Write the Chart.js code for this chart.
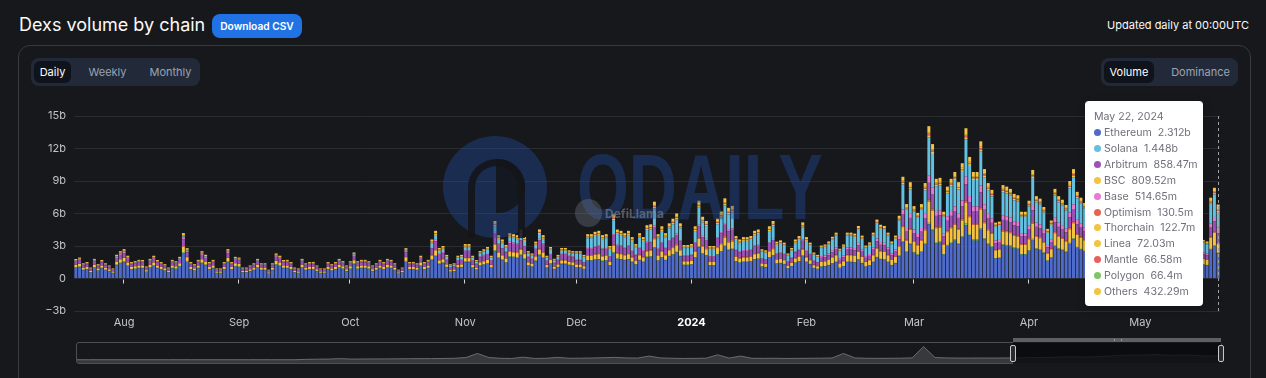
<!DOCTYPE html>
<html>
<head>
<meta charset="utf-8">
<title>Dexs volume by chain</title>
<script src="https://cdn.jsdelivr.net/npm/chart.js@4.4.1/dist/chart.umd.min.js"></script>
<style>
  html, body { margin: 0; padding: 0; }
  body { width: 1266px; height: 378px; overflow: hidden; position: relative; background: #17181c; color: #fafafa; font-family: Inter, "Noto Sans", sans-serif; }
  .abs { position: absolute; }
  #title { left: 19px; top: 10px; font-size: 18px; font-weight: 400; line-height: 30px; white-space: nowrap; }
  #csv { left: 212px; top: 14px; width: 90px; height: 24px; border-radius: 8px; background: #2172e5; color: #fff; font-size: 10.2px; font-weight: 600; line-height: 24px; text-align: center; }
  #updated { right: 17px; top: 15px; font-size: 11px; line-height: 20px; white-space: nowrap; }
  #card { left: 18px; top: 45px; width: 1233px; height: 400px; border: 1px solid #393a3f; border-radius: 12px; box-sizing: border-box; }
  .group { top: 58px; height: 28px; background: #222a39; border-radius: 8px; }
  .tab { top: 61px; height: 22px; line-height: 22px; font-size: 11px; text-align: center; color: #9aa3b3; border-radius: 6px; white-space: nowrap; }
  .tab.on { background: #0f131b; color: #fff; }
  #chartBox { left: 0; top: 95px; width: 1266px; height: 240px; }
  .wm { pointer-events: none; }
  #logo { left: 443px; top: 136px; width: 104px; height: 102px; border-radius: 50%; background: rgba(31, 74, 150, 0.42); }
  #arch { left: 468px; top: 159px; width: 57px; height: 79px; border: 7px solid rgba(20, 21, 25, 0.85); border-bottom: 0; border-radius: 29px 29px 0 0; box-sizing: border-box; }
  #bowl { left: 496px; top: 159px; width: 29px; height: 54px; border-radius: 0 27px 27px 0; background: rgba(20, 21, 25, 0.85); }
  #odaily { left: 577px; top: 141px; font-family: "Liberation Sans Narrow", "Liberation Sans", sans-serif; font-weight: 700; font-size: 93px; line-height: 93px; color: rgba(31, 74, 150, 0.42); transform-origin: 0 0; white-space: nowrap; }
  #llamaIcon { left: 575px; top: 199px; width: 27px; height: 28px; border-radius: 50%; background: rgba(130, 134, 146, 0.32); }
  #llamaText { left: 605px; top: 206px; font-size: 12px; font-weight: 700; line-height: 16px; color: rgba(150, 154, 166, 0.5); }
  #tip { left: 1085px; top: 101px; width: 118px; height: 205px; background: #fff; border-radius: 4px; box-shadow: 1px 2px 10px rgba(0, 0, 0, 0.2); box-sizing: border-box; padding: 8px 0 0 9px; font-size: 10.6px; color: #6e7079; }
  #tip .head { line-height: 16px; height: 16px; }
  #tip .row { height: 15.85px; display: flex; align-items: center; white-space: nowrap; }
  #tip .dot { width: 7px; height: 7px; border-radius: 50%; margin-right: 3px; flex: none; }
  #tip .val { margin-left: 6px; }
  #nav { left: 76px; top: 342px; width: 1146px; height: 22px; border: 1px solid #4e4f54; border-radius: 3px; box-sizing: border-box; overflow: hidden; }
  #navSel { left: 1013px; top: 342px; width: 208px; height: 22px; background: rgba(8, 9, 11, 0.78); }
  #navBar { left: 1013px; top: 338px; width: 208px; height: 4px; background: #5f6064; }
  #grip { left: 1114px; top: 339px; width: 6px; height: 2px; border-left: 1px solid #999; border-right: 1px solid #999; }
  .handle { top: 345px; width: 6px; height: 17px; border: 1px solid #c8c8c8; border-radius: 2px; background: #2a2b2f; box-sizing: border-box; }
</style>
</head>
<body>
<div id="title" class="abs">Dexs volume by chain</div>
<div id="csv" class="abs">Download CSV</div>
<div id="updated" class="abs">Updated daily at 00:00UTC</div>
<div id="card" class="abs"></div>

<div class="abs group" style="left:31px;width:169px"></div>
<div class="abs tab on" style="left:34px;width:37px">Daily</div>
<div class="abs tab" style="left:77px;width:61px">Weekly</div>
<div class="abs tab" style="left:143px;width:55px">Monthly</div>

<div class="abs group" style="left:1101px;width:137px"></div>
<div class="abs tab on" style="left:1104px;width:50px">Volume</div>
<div class="abs tab" style="left:1160px;width:81px">Dominance</div>

<div id="chartBox" class="abs"><canvas id="volChart"></canvas></div>

<div id="logo" class="abs wm"></div>
<div id="arch" class="abs wm"></div>
<div id="bowl" class="abs wm"></div>
<div id="odaily" class="abs wm">ODAILY</div>
<div id="llamaIcon" class="abs wm"></div>
<div id="llamaText" class="abs wm">DefiLlama</div>

<div id="tip" class="abs"></div>

<div id="nav" class="abs"><canvas id="navChart"></canvas></div>
<div id="navSel" class="abs"></div>
<div id="navBar" class="abs"></div>
<div id="grip" class="abs"></div>
<div class="abs handle" style="left:1010px"></div>
<div class="abs handle" style="left:1218px"></div>

<script>
// daily dex volume in billions USD, 2023-07-19 .. 2024-05-22
const firstDay = '2023-07-19';
const monthTicks = ['Aug', 'Sep', 'Oct', 'Nov', 'Dec', '2024', 'Feb', 'Mar', 'Apr', 'May'];

const ethereum = [
  .99,1.05,.77,.83,.55,.99,.72,.94,.77,.66, .50,1.21,1.38,1.49,1.16,.83,.88,.94,.94,.61,
  .99,1.16,.94,.83,.72,.55,.94,.88,1.10,2.31, 1.54,.83,.72,.94,1.38,1.21,.83,.94,.50,.50,
  .83,1.49,.83,1.10,1.05,.55,.55,.66,.77,.99, .77,.77,.44,.77,1.27,1.16,.94,.94,.83,.55,
  .50,.99,.77,.83,.83,.66,.50,.50,.83,.72, .83,.99,.88,.66,.88,1.32,.88,.94,.94,.88,
  .66,.77,.94,.83,.99,.94,.77,.44,.55,1.54, .83,.83,.77,1.16,.83,.94,
  1.69,2.07,1.32,1.41,1.03,.61,.66,.99,1.03,1.50, 1.50,.99,.80,1.18,1.27,1.36,.99,2.49,1.88,1.69,
  1.46,1.97,1.93,1.88,2.12,1.79,1.18,1.08,1.60,2.12, 1.88,.99,1.36,.85,1.03,1.32,1.32,1.22,1.18,
  1.00,1.00,.88,1.64,1.64,1.72,1.76,1.60,1.64,1.20, 2.36,1.80,1.76,1.68,1.76,1.52,1.28,1.68,1.52,1.96,
  2.00,2.84,1.64,1.92,1.68,2.04,2.20,2.40,2.04,1.24, 1.24,1.28,1.92,2.88,2.28,2.12,1.20,1.20,2.20,2.48,
  2.96,2.60,2.68,1.56,1.44,1.52,1.52,1.56,1.76,1.80, 1.08,1.04,1.92,2.12,1.36,1.40,1.32,.92,1.12,1.44,
  1.56,2.08,1.52,1.32,.96,.88,
  1.08,1.12,1.22,1.37,1.51,.97,1.12, 1.51,1.51,1.48,1.73,1.40,1.08,1.19,1.51,1.94,1.76,
  1.73,1.51,1.22,1.40,2.05,3.35,2.45,3.17,2.38,2.16, 2.45,3.13,5.00,4.43,3.28,3.31,2.20,3.02,3.28,3.49,
  3.17,3.78,4.93,4.00,3.49,3.49,4.50,3.60,3.13,2.92, 1.84,1.87,3.06,3.02,2.95,2.77,2.74,2.20,2.20,2.56,
  3.56,2.70,2.63,2.34,1.62,1.91,2.95,2.70,2.59,2.41, 3.20,3.60,2.84,2.66,2.48,
  2.34,2.09,1.76,2.02,2.23,2.45,2.12,1.87,1.73,1.98, 2.27,2.05,2.48,2.66,1.84,1.66,1.91,2.09,2.20,1.80,
  1.58,1.76,2.02,2.12,1.87,1.69,1.98,2.16,1.94,1.76,1.66, 1.26,1.22,2.66,2.99, 2.312
];

const solana = [
  .04,.04,.03,.03,.02,.04,.03,.03,.03,.02, .02,.04,.05,.05,.04,.03,.03,.03,.03,.02,
  .04,.04,.03,.03,.03,.02,.03,.03,.04,.08, .06,.03,.03,.03,.05,.04,.03,.03,.02,.02,
  .03,.05,.03,.04,.04,.02,.02,.02,.03,.04, .03,.03,.02,.03,.05,.04,.03,.03,.03,.02,
  .02,.04,.03,.03,.03,.02,.02,.02,.03,.03, .03,.04,.03,.02,.03,.05,.03,.03,.03,.03,
  .02,.03,.03,.03,.04,.03,.03,.02,.02,.06, .03,.03,.03,.04,.03,.03,
  .36,.44,.28,.30,.22,.13,.14,.21,.22,.32, .32,.21,.17,.25,.27,.29,.21,.53,.40,.36,
  .31,.42,.41,.40,.45,.38,.25,.23,.34,.45, .40,.21,.29,.18,.22,.28,.28,.26,.25,
  .55,.55,.48,.90,.90,.95,.97,.88,.90,.66, 1.30,.99,.97,.92,.97,.84,.70,.92,.84,1.08,
  1.10,1.56,.90,1.06,.92,1.12,1.21,1.32,1.12,.68, .68,.70,1.06,1.58,1.25,1.17,.66,.66,1.21,1.36,
  1.63,1.43,1.47,.86,.79,.84,.84,.86,.97,.99, .59,.57,1.06,1.17,.75,.77,.73,.51,.62,.79,
  .86,1.14,.84,.73,.53,.48,
  .75,.78,.85,.95,1.05,.68,.78, 1.05,1.05,1.03,1.20,.98,.75,.83,1.05,1.35,1.23,
  1.20,1.05,.85,.98,1.43,2.33,1.70,2.20,1.65,1.50, 1.70,2.18,3.48,3.08,2.28,2.30,1.53,2.10,2.28,2.43,
  2.20,2.63,3.43,2.78,2.43,2.43,3.13,2.50,2.18,2.03, 1.28,1.30,2.13,2.10,2.05,1.93,1.90,1.53,1.53,1.78,
  2.48,1.88,1.83,1.63,1.13,1.33,2.05,1.88,1.80,1.68, 2.23,2.50,1.98,1.85,1.73,
  1.63,1.45,1.23,1.40,1.55,1.70,1.48,1.30,1.20,1.38, 1.58,1.43,1.73,1.85,1.28,1.15,1.33,1.45,1.53,1.25,
  1.10,1.23,1.40,1.48,1.30,1.18,1.38,1.50,1.35,1.23,1.15, .88,.85,1.85,2.08, 1.448
];

const arbitrum = [
  .27,.29,.21,.23,.15,.27,.20,.26,.21,.18, .14,.33,.38,.41,.32,.23,.24,.26,.26,.17,
  .27,.32,.26,.23,.20,.15,.26,.24,.30,.63, .42,.23,.20,.26,.38,.33,.23,.26,.14,.14,
  .23,.41,.23,.30,.29,.15,.15,.18,.21,.27, .21,.21,.12,.21,.35,.32,.26,.26,.23,.15,
  .14,.27,.21,.23,.23,.18,.14,.14,.23,.20, .23,.27,.24,.18,.24,.36,.24,.26,.26,.24,
  .18,.21,.26,.23,.27,.26,.21,.12,.15,.42, .23,.23,.21,.32,.23,.26,
  .61,.75,.48,.51,.37,.22,.24,.36,.37,.54, .54,.36,.29,.43,.46,.49,.36,.90,.68,.61,
  .53,.71,.70,.68,.77,.65,.43,.39,.58,.77, .68,.36,.49,.31,.37,.48,.48,.44,.43,
  .35,.35,.31,.57,.57,.60,.62,.56,.57,.42, .83,.63,.62,.59,.62,.53,.45,.59,.53,.69,
  .70,.99,.57,.67,.59,.71,.77,.84,.71,.43, .43,.45,.67,1.01,.80,.74,.42,.42,.77,.87,
  1.04,.91,.94,.55,.50,.53,.53,.55,.62,.63, .38,.36,.67,.74,.48,.49,.46,.32,.39,.50,
  .55,.73,.53,.46,.34,.31,
  .33,.34,.37,.42,.46,.30,.34, .46,.46,.45,.53,.43,.33,.36,.46,.59,.54,
  .53,.46,.37,.43,.63,1.02,.75,.97,.73,.66, .75,.96,1.53,1.35,1.00,1.01,.67,.92,1.00,1.07,
  .97,1.16,1.51,1.22,1.07,1.07,1.38,1.10,.96,.89, .56,.57,.94,.92,.90,.85,.84,.67,.67,.78,
  1.09,.83,.80,.72,.50,.58,.90,.83,.79,.74, .98,1.10,.87,.81,.76,
  .72,.64,.54,.62,.68,.75,.65,.57,.53,.61, .69,.63,.76,.81,.56,.51,.58,.64,.67,.55,
  .48,.54,.62,.65,.57,.52,.61,.66,.59,.54,.51, .39,.37,.81,.91, .85847
];

const bsc = [
  .22,.23,.17,.18,.12,.22,.16,.20,.17,.14, .11,.26,.30,.32,.25,.18,.19,.20,.20,.13,
  .22,.25,.20,.18,.16,.12,.20,.19,.24,.50, .34,.18,.16,.20,.30,.26,.18,.20,.11,.11,
  .18,.32,.18,.24,.23,.12,.12,.14,.17,.22, .17,.17,.10,.17,.28,.25,.20,.20,.18,.12,
  .11,.22,.17,.18,.18,.14,.11,.11,.18,.16, .18,.22,.19,.14,.19,.29,.19,.20,.20,.19,
  .14,.17,.20,.18,.22,.20,.17,.10,.12,.34, .18,.18,.17,.25,.18,.20,
  .36,.44,.28,.30,.22,.13,.14,.21,.22,.32, .32,.21,.17,.25,.27,.29,.21,.53,.40,.36,
  .31,.42,.41,.40,.45,.38,.25,.23,.34,.45, .40,.21,.29,.18,.22,.28,.28,.26,.25,
  .25,.25,.22,.41,.41,.43,.44,.40,.41,.30, .59,.45,.44,.42,.44,.38,.32,.42,.38,.49,
  .50,.71,.41,.48,.42,.51,.55,.60,.51,.31, .31,.32,.48,.72,.57,.53,.30,.30,.55,.62,
  .74,.65,.67,.39,.36,.38,.38,.39,.44,.45, .27,.26,.48,.53,.34,.35,.33,.23,.28,.36,
  .39,.52,.38,.33,.24,.22,
  .42,.43,.48,.53,.59,.38,.43, .59,.59,.57,.67,.55,.42,.46,.59,.76,.69,
  .67,.59,.48,.55,.80,1.30,.95,1.23,.92,.84, .95,1.22,1.95,1.72,1.27,1.29,.85,1.18,1.27,1.36,
  1.23,1.47,1.92,1.55,1.36,1.36,1.75,1.40,1.22,1.13, .71,.73,1.19,1.18,1.15,1.08,1.06,.85,.85,.99,
  1.39,1.05,1.02,.91,.63,.74,1.15,1.05,1.01,.94, 1.25,1.40,1.11,1.04,.97,
  .91,.81,.69,.78,.87,.95,.83,.73,.67,.77, .88,.80,.97,1.04,.71,.64,.74,.81,.85,.70,
  .62,.69,.78,.83,.73,.66,.77,.84,.76,.69,.64, .49,.48,1.04,1.16, .80952
];

const base = [
  .07,.08,.06,.06,.04,.07,.05,.07,.06,.05, .04,.09,.10,.11,.08,.06,.06,.07,.07,.04,
  .07,.08,.07,.06,.05,.04,.07,.06,.08,.17, .11,.06,.05,.07,.10,.09,.06,.07,.04,.04,
  .06,.11,.06,.08,.08,.04,.04,.05,.06,.07, .06,.06,.03,.06,.09,.08,.07,.07,.06,.04,
  .04,.07,.06,.06,.06,.05,.04,.04,.06,.05, .06,.07,.06,.05,.06,.10,.06,.07,.07,.06,
  .05,.06,.07,.06,.07,.07,.06,.03,.04,.11, .06,.06,.06,.08,.06,.07,
  .11,.13,.08,.09,.07,.04,.04,.06,.07,.10, .10,.06,.05,.08,.08,.09,.06,.16,.12,.11,
  .09,.13,.12,.12,.14,.11,.08,.07,.10,.14, .12,.06,.09,.05,.07,.08,.08,.08,.08,
  .05,.05,.04,.08,.08,.09,.09,.08,.08,.06, .12,.09,.09,.08,.09,.08,.06,.08,.08,.10,
  .10,.14,.08,.10,.08,.10,.11,.12,.10,.06, .06,.06,.10,.14,.11,.11,.06,.06,.11,.12,
  .15,.13,.13,.08,.07,.08,.08,.08,.09,.09, .05,.05,.10,.11,.07,.07,.07,.05,.06,.07,
  .08,.10,.08,.07,.05,.04,
  .15,.16,.17,.19,.21,.14,.16, .21,.21,.21,.24,.20,.15,.17,.21,.27,.25,
  .24,.21,.17,.20,.29,.47,.34,.44,.33,.30, .34,.44,.70,.62,.46,.46,.31,.42,.46,.49,
  .44,.53,.69,.56,.49,.49,.63,.50,.44,.41, .26,.26,.43,.42,.41,.39,.38,.31,.31,.36,
  .50,.38,.37,.33,.23,.27,.41,.38,.36,.34, .45,.50,.40,.37,.35,
  .33,.29,.25,.28,.31,.34,.30,.26,.24,.28, .32,.29,.35,.37,.26,.23,.27,.29,.31,.25,
  .22,.25,.28,.30,.26,.24,.28,.30,.27,.25,.23, .18,.17,.37,.42, .51465
];

const optimism = [
  .03,.03,.02,.02,.02,.03,.02,.03,.02,.02, .01,.03,.04,.04,.03,.02,.02,.03,.03,.02,
  .03,.03,.03,.02,.02,.02,.03,.02,.03,.06, .04,.02,.02,.03,.04,.03,.02,.03,.01,.01,
  .02,.04,.02,.03,.03,.02,.02,.02,.02,.03, .02,.02,.01,.02,.03,.03,.03,.03,.02,.02,
  .01,.03,.02,.02,.02,.02,.01,.01,.02,.02, .02,.03,.02,.02,.02,.04,.02,.03,.03,.02,
  .02,.02,.03,.02,.03,.03,.02,.01,.02,.04, .02,.02,.02,.03,.02,.03,
  .07,.09,.06,.06,.04,.03,.03,.04,.04,.06, .06,.04,.03,.05,.05,.06,.04,.11,.08,.07,
  .06,.08,.08,.08,.09,.08,.05,.05,.07,.09, .08,.04,.06,.04,.04,.06,.06,.05,.05,
  .05,.05,.04,.08,.08,.09,.09,.08,.08,.06, .12,.09,.09,.08,.09,.08,.06,.08,.08,.10,
  .10,.14,.08,.10,.08,.10,.11,.12,.10,.06, .06,.06,.10,.14,.11,.11,.06,.06,.11,.12,
  .15,.13,.13,.08,.07,.08,.08,.08,.09,.09, .05,.05,.10,.11,.07,.07,.07,.05,.06,.07,
  .08,.10,.08,.07,.05,.04,
  .05,.05,.05,.06,.06,.04,.05, .06,.06,.06,.07,.06,.05,.05,.06,.08,.07,
  .07,.06,.05,.06,.09,.14,.10,.13,.10,.09, .10,.13,.21,.18,.14,.14,.09,.13,.14,.15,
  .13,.16,.21,.17,.15,.15,.19,.15,.13,.12, .08,.08,.13,.13,.12,.12,.11,.09,.09,.11,
  .15,.11,.11,.10,.07,.08,.12,.11,.11,.10, .13,.15,.12,.11,.10,
  .10,.09,.07,.08,.09,.10,.09,.08,.07,.08, .09,.09,.10,.11,.08,.07,.08,.09,.09,.08,
  .07,.07,.08,.09,.08,.07,.08,.09,.08,.07,.07, .05,.05,.11,.12, .1305
];

const thorchain = [
  .02,.02,.01,.02,.01,.02,.01,.02,.01,.01, .01,.02,.03,.03,.02,.02,.02,.02,.02,.01,
  .02,.02,.02,.02,.01,.01,.02,.02,.02,.04, .03,.02,.01,.02,.03,.02,.02,.02,.01,.01,
  .02,.03,.02,.02,.02,.01,.01,.01,.01,.02, .01,.01,.01,.01,.02,.02,.02,.02,.02,.01,
  .01,.02,.01,.02,.02,.01,.01,.01,.02,.01, .02,.02,.02,.01,.02,.02,.02,.02,.02,.02,
  .01,.01,.02,.02,.02,.02,.01,.01,.01,.03, .02,.02,.01,.02,.02,.02,
  .07,.09,.06,.06,.04,.03,.03,.04,.04,.06, .06,.04,.03,.05,.05,.06,.04,.11,.08,.07,
  .06,.08,.08,.08,.09,.08,.05,.05,.07,.09, .08,.04,.06,.04,.04,.06,.06,.05,.05,
  .05,.05,.04,.08,.08,.09,.09,.08,.08,.06, .12,.09,.09,.08,.09,.08,.06,.08,.08,.10,
  .10,.14,.08,.10,.08,.10,.11,.12,.10,.06, .06,.06,.10,.14,.11,.11,.06,.06,.11,.12,
  .15,.13,.13,.08,.07,.08,.08,.08,.09,.09, .05,.05,.10,.11,.07,.07,.07,.05,.06,.07,
  .08,.10,.08,.07,.05,.04,
  .05,.05,.05,.06,.06,.04,.05, .06,.06,.06,.07,.06,.05,.05,.06,.08,.07,
  .07,.06,.05,.06,.09,.14,.10,.13,.10,.09, .10,.13,.21,.18,.14,.14,.09,.13,.14,.15,
  .13,.16,.21,.17,.15,.15,.19,.15,.13,.12, .08,.08,.13,.13,.12,.12,.11,.09,.09,.11,
  .15,.11,.11,.10,.07,.08,.12,.11,.11,.10, .13,.15,.12,.11,.10,
  .10,.09,.07,.08,.09,.10,.09,.08,.07,.08, .09,.09,.10,.11,.08,.07,.08,.09,.09,.08,
  .07,.07,.08,.09,.08,.07,.08,.09,.08,.07,.07, .05,.05,.11,.12, .1227
];

const linea = [
  .01,.02,.01,.01,.01,.02,.01,.01,.01,.01, .01,.02,.02,.03,.02,.01,.02,.02,.01,.01,
  .02,.02,.01,.01,.01,.01,.02,.01,.02,.04, .03,.01,.01,.02,.02,.02,.01,.02,.01,.01,
  .01,.03,.01,.02,.02,.01,.01,.01,.01,.02, .01,.01,.01,.01,.02,.02,.01,.02,.01,.01,
  .01,.02,.01,.01,.02,.01,.01,.01,.01,.01, .01,.02,.02,.01,.01,.02,.01,.02,.02,.01,
  .01,.01,.02,.01,.02,.02,.01,.01,.01,.03, .01,.02,.01,.02,.01,.02,
  .04,.04,.03,.03,.02,.01,.01,.02,.02,.03, .03,.02,.02,.03,.03,.03,.02,.05,.04,.04,
  .03,.04,.04,.04,.05,.04,.03,.02,.03,.05, .04,.02,.03,.02,.02,.03,.03,.03,.03,
  .03,.03,.02,.04,.04,.04,.04,.04,.04,.03, .06,.05,.04,.04,.04,.04,.03,.04,.04,.05,
  .05,.07,.04,.05,.04,.05,.06,.06,.05,.03, .03,.03,.05,.07,.06,.05,.03,.03,.06,.06,
  .07,.07,.07,.04,.04,.04,.04,.04,.04,.05, .03,.03,.05,.05,.03,.04,.03,.02,.03,.04,
  .04,.05,.04,.03,.02,.02,
  .03,.03,.03,.04,.04,.03,.03, .04,.04,.04,.05,.04,.03,.03,.04,.05,.05,
  .05,.04,.03,.04,.06,.09,.07,.09,.07,.06, .07,.09,.14,.12,.09,.09,.06,.08,.09,.10,
  .09,.11,.14,.11,.10,.10,.13,.10,.09,.08, .05,.05,.09,.08,.08,.08,.08,.06,.06,.07,
  .10,.08,.07,.07,.05,.05,.08,.08,.07,.07, .09,.10,.08,.07,.07,
  .07,.06,.05,.06,.06,.07,.06,.05,.05,.06, .06,.06,.07,.07,.05,.05,.05,.06,.06,.05,
  .04,.05,.06,.06,.05,.05,.06,.06,.05,.05,.05, .04,.03,.07,.08, .07203
];

const mantle = [
  .01,.01,.01,.01,.01,.01,.01,.01,.01,.01, .01,.01,.01,.01,.01,.01,.01,.01,.01,.01,
  .01,.01,.01,.01,.01,.01,.01,.01,.01,.02, .01,.01,.01,.01,.01,.01,.01,.01,.01,.01,
  .01,.01,.01,.01,.01,.01,.01,.01,.01,.01, .01,.01,.01,.01,.01,.01,.01,.01,.01,.01,
  .01,.01,.01,.01,.01,.01,.01,.01,.01,.01, .01,.01,.01,.01,.01,.01,.01,.01,.01,.01,
  .01,.01,.01,.01,.01,.01,.01,.01,.01,.01, .01,.01,.01,.01,.01,.01,
  .04,.04,.03,.03,.02,.01,.01,.02,.02,.03, .03,.02,.02,.03,.03,.03,.02,.05,.04,.04,
  .03,.04,.04,.04,.05,.04,.03,.02,.03,.05, .04,.02,.03,.02,.02,.03,.03,.03,.03,
  .03,.03,.02,.04,.04,.04,.04,.04,.04,.03, .06,.05,.04,.04,.04,.04,.03,.04,.04,.05,
  .05,.07,.04,.05,.04,.05,.06,.06,.05,.03, .03,.03,.05,.07,.06,.05,.03,.03,.06,.06,
  .07,.07,.07,.04,.04,.04,.04,.04,.04,.05, .03,.03,.05,.05,.03,.04,.03,.02,.03,.04,
  .04,.05,.04,.03,.02,.02,
  .03,.03,.03,.04,.04,.03,.03, .04,.04,.04,.05,.04,.03,.03,.04,.05,.05,
  .05,.04,.03,.04,.06,.09,.07,.09,.07,.06, .07,.09,.14,.12,.09,.09,.06,.08,.09,.10,
  .09,.11,.14,.11,.10,.10,.13,.10,.09,.08, .05,.05,.09,.08,.08,.08,.08,.06,.06,.07,
  .10,.08,.07,.07,.05,.05,.08,.08,.07,.07, .09,.10,.08,.07,.07,
  .07,.06,.05,.06,.06,.07,.06,.05,.05,.06, .06,.06,.07,.07,.05,.05,.05,.06,.06,.05,
  .04,.05,.06,.06,.05,.05,.06,.06,.05,.05,.05, .04,.03,.07,.08, .06658
];

const polygon = [
  .05,.06,.04,.05,.03,.05,.04,.05,.04,.04, .03,.07,.08,.08,.06,.05,.05,.05,.05,.03,
  .05,.06,.05,.05,.04,.03,.05,.05,.06,.13, .08,.05,.04,.05,.08,.07,.05,.05,.03,.03,
  .05,.08,.05,.06,.06,.03,.03,.04,.04,.05, .04,.04,.02,.04,.07,.06,.05,.05,.05,.03,
  .03,.05,.04,.05,.05,.04,.03,.03,.05,.04, .05,.05,.05,.04,.05,.07,.05,.05,.05,.05,
  .04,.04,.05,.05,.05,.05,.04,.02,.03,.08, .05,.05,.04,.06,.05,.05,
  .07,.09,.06,.06,.04,.03,.03,.04,.04,.06, .06,.04,.03,.05,.05,.06,.04,.11,.08,.07,
  .06,.08,.08,.08,.09,.08,.05,.05,.07,.09, .08,.04,.06,.04,.04,.06,.06,.05,.05,
  .03,.03,.02,.04,.04,.04,.04,.04,.04,.03, .06,.05,.04,.04,.04,.04,.03,.04,.04,.05,
  .05,.07,.04,.05,.04,.05,.06,.06,.05,.03, .03,.03,.05,.07,.06,.05,.03,.03,.06,.06,
  .07,.07,.07,.04,.04,.04,.04,.04,.04,.05, .03,.03,.05,.05,.03,.04,.03,.02,.03,.04,
  .04,.05,.04,.03,.02,.02,
  .03,.03,.03,.04,.04,.03,.03, .04,.04,.04,.05,.04,.03,.03,.04,.05,.05,
  .05,.04,.03,.04,.06,.09,.07,.09,.07,.06, .07,.09,.14,.12,.09,.09,.06,.08,.09,.10,
  .09,.11,.14,.11,.10,.10,.13,.10,.09,.08, .05,.05,.09,.08,.08,.08,.08,.06,.06,.07,
  .10,.08,.07,.07,.05,.05,.08,.08,.07,.07, .09,.10,.08,.07,.07,
  .07,.06,.05,.06,.06,.07,.06,.05,.05,.06, .06,.06,.07,.07,.05,.05,.05,.06,.06,.05,
  .04,.05,.06,.06,.05,.05,.06,.06,.05,.05,.05, .04,.03,.07,.08, .0664
];

const others = [
  .09,.10,.07,.08,.05,.09,.07,.09,.07,.06, .05,.11,.13,.14,.11,.08,.08,.09,.09,.06,
  .09,.11,.09,.08,.07,.05,.09,.08,.10,.21, .14,.08,.07,.09,.13,.11,.08,.09,.05,.05,
  .08,.14,.08,.10,.10,.05,.05,.06,.07,.09, .07,.07,.04,.07,.12,.11,.09,.09,.08,.05,
  .05,.09,.07,.08,.08,.06,.05,.05,.08,.07, .08,.09,.08,.06,.08,.12,.08,.09,.09,.08,
  .06,.07,.09,.08,.09,.09,.07,.04,.05,.14, .08,.08,.07,.11,.08,.09,
  .18,.22,.14,.15,.11,.07,.07,.11,.11,.16, .16,.11,.09,.13,.14,.15,.11,.27,.20,.18,
  .16,.21,.21,.20,.23,.19,.13,.12,.17,.23, .20,.11,.15,.09,.11,.14,.14,.13,.13,
  .13,.13,.11,.21,.21,.22,.22,.20,.21,.15, .30,.23,.22,.21,.22,.19,.16,.21,.19,.25,
  .25,.36,.21,.24,.21,.26,.28,.30,.26,.16, .16,.16,.24,.36,.29,.27,.15,.15,.28,.31,
  .37,.33,.34,.20,.18,.19,.19,.20,.22,.23, .14,.13,.24,.27,.17,.18,.17,.12,.14,.18,
  .20,.26,.19,.17,.12,.11,
  .12,.12,.14,.15,.17,.11,.12, .17,.17,.16,.19,.16,.12,.13,.17,.22,.20,
  .19,.17,.14,.16,.23,.37,.27,.35,.26,.24, .27,.35,.56,.49,.36,.37,.24,.34,.36,.39,
  .35,.42,.55,.44,.39,.39,.50,.40,.35,.32, .20,.21,.34,.34,.33,.31,.30,.24,.24,.28,
  .40,.30,.29,.26,.18,.21,.33,.30,.29,.27, .36,.40,.32,.30,.28,
  .26,.23,.20,.22,.25,.27,.24,.21,.19,.22, .25,.23,.28,.30,.20,.18,.21,.23,.24,.20,
  .18,.20,.22,.24,.21,.19,.22,.24,.22,.20,.18, .14,.14,.30,.33, .43229
];

// full-history overview drawn in the zoom slider
const overviewVolume = [
  3.6,3.6,3.6,3.6,3.6,3.6,3.6,3.6,3.6,3.6, 3.6,3.6,3.6,3.6,3.6,3.6,3.6,3.6,3.6,3.6,
  4.0,4.2,4.3,4.8,4.3,4.4,4.5,4.5,4.6,4.7, 4.8,4.8,5.0,5.2,6.0,10.5,6.0,5.2,5.0,6.4,
  5.0,5.2,6.2,5.2,5.3,5.5,5.8,6.2,5.6,5.4, 7.6,5.6,5.2,5.0,5.1,5.3,9.0,5.4,7.6,5.2,
  5.1,5.2,5.0,5.1,5.2,5.3,5.5,10.5,5.6,5.2, 5.1,5.2,5.3,5.6,18.0,6.0,5.6,5.4,5.4,5.5,
  5.4,5.5,5.6,5.8,5.9,6.2,6.5,6.8,6.5,6.9, 7.5,8.2,8.8,8.5,9.2,8.8,8.4,8.8,8.0,7.6, 8.0
];

const stackSeries = [
  { name: 'Ethereum', data: ethereum, color: '#4e6bc9' },
  { name: 'Polygon', data: polygon, color: '#7cc765' },
  { name: 'BSC', data: bsc, color: '#f5c342' },
  { name: 'Optimism', data: optimism, color: '#e8644f' },
  { name: 'Arbitrum', data: arbitrum, color: '#9a52b6' },
  { name: 'Base', data: base, color: '#e77ad2' },
  { name: 'Solana', data: solana, color: '#63c0e1' },
  { name: 'Thorchain', data: thorchain, color: '#f5c342' },
  { name: 'Mantle', data: mantle, color: '#e95f5c' },
  { name: 'Linea', data: linea, color: '#f5c342' },
  { name: 'Others', data: others, color: '#f5c342' }
];
const tooltipOrder = ['Ethereum', 'Solana', 'Arbitrum', 'BSC', 'Base', 'Optimism', 'Thorchain', 'Linea', 'Mantle', 'Polygon', 'Others'];

const bad = stackSeries.filter(s => s.data.length !== ethereum.length).map(s => s.name + ':' + s.data.length);
if (bad.length) throw new Error('length mismatch ' + ethereum.length + ' ' + bad.join(','));

const dayMs = 86400000;
const startMs = Date.parse(firstDay + 'T00:00:00Z');
const dates = ethereum.map((_, i) => new Date(startMs + i * dayMs));
const labels = dates.map(d => d.toISOString().slice(0, 10));
const monthStarts = [];
dates.forEach((d, i) => { if (d.getUTCDate() === 1) monthStarts.push(i); });

Chart.defaults.font.family = 'Inter, "Noto Sans", sans-serif';

const markers = {
  id: 'markers',
  afterDatasetsDraw(chart) {
    const { ctx, chartArea, scales: { x, y } } = chart;
    ctx.save();
    ctx.strokeStyle = '#d6d6d6';
    ctx.lineWidth = 1;
    const y0 = Math.round(y.getPixelForValue(0)) + 0.5;
    monthStarts.forEach(i => {
      const px = Math.round(x.getPixelForValue(i) - 1) + 0.5;
      ctx.beginPath();
      ctx.moveTo(px, y0);
      ctx.lineTo(px, y0 + 4);
      ctx.stroke();
    });
    const lx = Math.round(x.getPixelForValue(labels.length - 1)) + 0.5;
    ctx.strokeStyle = '#a0a0a0';
    ctx.setLineDash([3, 3]);
    ctx.beginPath();
    ctx.moveTo(lx, chartArea.top);
    ctx.lineTo(lx, chartArea.bottom);
    ctx.stroke();
    ctx.restore();
  }
};

new Chart(document.getElementById('volChart'), {
  type: 'bar',
  data: {
    labels: labels,
    datasets: stackSeries.map(s => ({
      label: s.name,
      data: s.data,
      backgroundColor: s.color,
      borderWidth: 0,
      barPercentage: 0.8,
      categoryPercentage: 1
    }))
  },
  options: {
    responsive: true,
    maintainAspectRatio: false,
    animation: false,
    events: [],
    layout: { padding: { top: 21, right: 46, left: 0, bottom: 0 } },
    plugins: { legend: { display: false }, tooltip: { enabled: false } },
    scales: {
      x: {
        stacked: true,
        grid: { display: false, drawTicks: false },
        border: { display: false },
        ticks: {
          autoSkip: false,
          maxRotation: 0,
          minRotation: 0,
          padding: 5,
          color: ctx => (ctx.tick && ctx.tick.label === '2024') ? '#ffffff' : '#c4c4c4',
          font: ctx => ({ size: 11, weight: (ctx.tick && ctx.tick.label === '2024') ? '700' : '400' }),
          callback: (v, i) => {
            const k = monthStarts.indexOf(i);
            return k < 0 ? '' : monthTicks[k];
          }
        },
        afterFit: s => { s.height = 24; }
      },
      y: {
        stacked: true,
        min: -3,
        max: 15,
        grid: { color: '#2b2c31', drawTicks: false },
        border: { display: false },
        ticks: {
          stepSize: 3,
          padding: 8,
          color: '#c4c4c4',
          font: { size: 11 },
          callback: v => v === 0 ? '0' : (v < 0 ? '\u2212' + Math.abs(v) : v) + 'b'
        },
        afterFit: s => { s.width = 74; }
      }
    }
  },
  plugins: [markers]
});

new Chart(document.getElementById('navChart'), {
  type: 'line',
  data: {
    labels: overviewVolume.map((_, i) => i),
    datasets: [{
      data: overviewVolume,
      borderColor: '#6a6b70',
      borderWidth: 1,
      backgroundColor: 'rgba(84, 85, 90, 0.55)',
      fill: 'origin',
      pointRadius: 0,
      tension: 0
    }]
  },
  options: {
    responsive: true,
    maintainAspectRatio: false,
    animation: false,
    events: [],
    layout: { padding: 0 },
    plugins: { legend: { display: false }, tooltip: { enabled: false } },
    scales: {
      x: { display: false },
      y: { display: false, min: 0, max: 22 }
    }
  }
});

// tooltip for the last day
const last = labels.length - 1;
const fmt = v => v >= 1 ? parseFloat(v.toFixed(3)) + 'b' : parseFloat((v * 1000).toFixed(2)) + 'm';
const tip = document.getElementById('tip');
const head = document.createElement('div');
head.className = 'head';
head.textContent = dates[last].toLocaleDateString('en-US', { month: 'short', day: 'numeric', year: 'numeric', timeZone: 'UTC' });
tip.appendChild(head);
tooltipOrder.forEach(name => {
  const s = stackSeries.find(q => q.name === name);
  const row = document.createElement('div');
  row.className = 'row';
  row.innerHTML = '<span class="dot" style="background:' + s.color + '"></span><span>' + name + '</span><span class="val">' + fmt(s.data[last]) + '</span>';
  tip.appendChild(row);
});

// fit watermark word to its width in the screenshot
const od = document.getElementById('odaily');
od.style.transform = 'scaleX(' + (246 / od.offsetWidth).toFixed(3) + ')';
</script>
</body>
</html>
